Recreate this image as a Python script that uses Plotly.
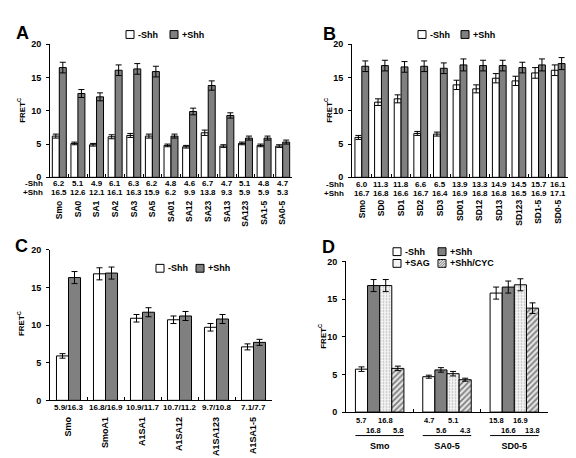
import plotly.graph_objects as go

# ---------------- data ----------------
a_cats = ["Smo", "SA0", "SA1", "SA2", "SA3", "SA5", "SA01", "SA12", "SA23", "SA13", "SA123", "SA1-5", "SA0-5"]
a_minus = [6.2, 5.1, 4.9, 6.1, 6.3, 6.2, 4.8, 4.6, 6.7, 4.7, 5.1, 4.8, 4.7]
a_plus = [16.5, 12.6, 12.1, 16.1, 16.3, 15.9, 6.2, 9.9, 13.8, 9.3, 5.9, 5.9, 5.3]
a_minus_err = [0.3, 0.2, 0.2, 0.3, 0.3, 0.3, 0.2, 0.2, 0.4, 0.2, 0.2, 0.2, 0.2]
a_plus_err = [0.8, 0.6, 0.6, 0.8, 0.8, 0.8, 0.3, 0.5, 0.7, 0.4, 0.3, 0.3, 0.3]

b_cats = ["Smo", "SD0", "SD1", "SD2", "SD3", "SD01", "SD12", "SD13", "SD123", "SD1-5", "SD0-5"]
b_minus = [6.0, 11.3, 11.8, 6.6, 6.5, 13.9, 13.3, 14.9, 14.5, 15.7, 16.1]
b_plus = [16.7, 16.8, 16.6, 16.7, 16.4, 16.9, 16.8, 16.8, 16.5, 16.9, 17.1]
b_minus_err = [0.3, 0.5, 0.6, 0.3, 0.3, 0.7, 0.6, 0.7, 0.7, 0.8, 0.8]
b_plus_err = [0.8, 0.8, 0.8, 0.8, 0.8, 0.9, 0.8, 0.8, 0.8, 0.9, 0.9]

c_cats = ["Smo", "SmoA1", "A1SA1", "A1SA12", "A1SA123", "A1SA1-5"]
c_minus = [5.9, 16.8, 10.9, 10.7, 9.7, 7.1]
c_plus = [16.3, 16.9, 11.7, 11.2, 10.8, 7.7]
c_minus_err = [0.3, 0.8, 0.5, 0.5, 0.5, 0.4]
c_plus_err = [0.8, 0.8, 0.6, 0.6, 0.6, 0.4]

d_cats = ["Smo", "SA0-5", "SD0-5"]
d_minus = [5.7, 4.7, 15.8]
d_plus = [16.8, 5.6, 16.6]
d_sag = [16.8, 5.1, 16.9]
d_cyc = [5.8, 4.3, 13.8]
d_minus_err = [0.3, 0.2, 0.8]
d_plus_err = [0.8, 0.3, 0.8]
d_sag_err = [0.8, 0.3, 0.8]
d_cyc_err = [0.3, 0.2, 0.7]

series_names = ["-Shh", "+Shh", "+SAG", "+Shh/CYC"]

# ---------------- styling ----------------
W, H = 576, 458
FONT = "Liberation Sans, Arial, sans-serif"
GRAY = "#808080"


def PX(p):
    return p / W


def PY(p):
    return 1 - p / H


STYLE = {
    "-Shh": dict(color="white"),
    "+Shh": dict(color=GRAY),
    "+SAG": dict(color="#f4f4f4", pattern=dict(shape=".", fgcolor="#b5b5b5", bgcolor="#f4f4f4",
                                               size=3, solidity=0.25, fillmode="replace")),
    "+Shh/CYC": dict(color="#e4e4e4", pattern=dict(shape="/", fgcolor="#7a7a7a", bgcolor="#e4e4e4",
                                                   size=4, solidity=0.4, fillmode="replace")),
}

fig = go.Figure()
annotations = []
shapes = []


def add_group(cats, series, errs, names, xa, ya, bargap):
    n = len(series)
    gw = 1 - bargap
    w = gw / n
    for k, (vals, err, nm) in enumerate(zip(series, errs, names)):
        st = STYLE[nm]
        marker = dict(color=st["color"], line=dict(color="black", width=1))
        if "pattern" in st:
            marker["pattern"] = st["pattern"]
        fig.add_trace(go.Bar(
            x=cats, y=vals, name=nm, showlegend=False,
            width=w, offset=-gw / 2 + k * w,
            marker=marker, xaxis=xa, yaxis=ya,
            error_y=dict(type="data", array=err, visible=True, color="black",
                         thickness=1, width=3),
        ))
    return w, gw


def axis_pair(xdom, ydom, ncat, anchor_x, anchor_y, standoff, tickangle, tfs):
    xa = dict(domain=xdom, anchor=anchor_y, type="category", range=[-0.5, ncat - 0.5],
              showline=True, linecolor="black", linewidth=1, ticks="inside",
              tickson="boundaries", ticklen=3, tickcolor="black", tickwidth=1,
              tickangle=tickangle, ticklabelstandoff=standoff,
              tickfont=dict(family=FONT, size=tfs, color="black", weight="bold"),
              showgrid=False, zeroline=False, fixedrange=True)
    ya = dict(domain=ydom, anchor=anchor_x, range=[0, 20], dtick=5, tick0=0,
              showline=True, linecolor="black", linewidth=1, ticks="outside",
              ticklen=3, tickcolor="black", tickwidth=1, ticklabelstandoff=3,
              tickfont=dict(family=FONT, size=9, color="black", weight="bold"),
              showgrid=False, zeroline=False, fixedrange=True)
    return xa, ya


def txt(x, y, s, size=8, xref="paper", yref="paper", xanchor="center", yanchor="middle", angle=0):
    annotations.append(dict(x=x, y=y, xref=xref, yref=yref, text=s, showarrow=False,
                            xanchor=xanchor, yanchor=yanchor, textangle=angle,
                            font=dict(family=FONT, size=size, color="black", weight="bold")))


def legend_key(x, y, nm, size=8):
    st = STYLE[nm]
    shapes.append(dict(type="rect", xref="paper", yref="paper",
                       x0=PX(x), x1=PX(x + size), y0=PY(y + size), y1=PY(y),
                       fillcolor=st["color"], line=dict(color="black", width=1)))
    if nm == "+Shh/CYC":
        # diagonal hatch lines inside the key box
        for d in (2.7, 5.4, 8.1, 10.8, 13.5):
            xa0 = max(0, d - size)
            ya0 = min(d, size)
            xa1 = min(d, size)
            ya1 = max(0, d - size)
            shapes.append(dict(type="line", xref="paper", yref="paper",
                               x0=PX(x + xa0), y0=PY(y + ya0),
                               x1=PX(x + xa1), y1=PY(y + ya1),
                               line=dict(color="#7a7a7a", width=1)))


# ---------------- Panel A ----------------
ax_a, ay_a = axis_pair([PX(42), PX(284)], [PY(168), PY(32)], len(a_cats), "x", "y", 19, -90, 8.5)
add_group(a_cats, [a_minus, a_plus], [a_minus_err, a_plus_err], ["-Shh", "+Shh"], "x", "y", 0.25)
for c, m, p in zip(a_cats, a_minus, a_plus):
    txt(c, PY(174), f"{m:.1f}", xref="x")
    txt(c, PY(184), f"{p:.1f}", xref="x")
txt(PX(37), PY(174), "-Shh", size=8, xanchor="right")
txt(PX(37), PY(184), "+Shh", size=8, xanchor="right")

# ---------------- Panel B ----------------
ax_b, ay_b = axis_pair([PX(344), PX(560)], [PY(168), PY(32)], len(b_cats), "x2", "y2", 18, -90, 8.5)
add_group(b_cats, [b_minus, b_plus], [b_minus_err, b_plus_err], ["-Shh", "+Shh"], "x2", "y2", 0.3)
for c, m, p in zip(b_cats, b_minus, b_plus):
    txt(c, PY(175), f"{m:.1f}", xref="x2")
    txt(c, PY(185), f"{p:.1f}", xref="x2")
txt(PX(338), PY(175), "-Shh", size=8, xanchor="right")
txt(PX(338), PY(185), "+Shh", size=8, xanchor="right")

# ---------------- Panel C ----------------
ax_c, ay_c = axis_pair([PX(42), PX(264)], [PY(396), PY(242)], len(c_cats), "x3", "y3", 12, -90, 9)
add_group(c_cats, [c_minus, c_plus], [c_minus_err, c_plus_err], ["-Shh", "+Shh"], "x3", "y3", 0.35)
for c, m, p in zip(c_cats, c_minus, c_plus):
    txt(c, PY(403), f"{m:.1f}/{p:.1f}", xref="x3")

# ---------------- Panel D ----------------
ax_d, ay_d = axis_pair([PX(338), PX(540)], [PY(408), PY(254)], len(d_cats), "x4", "y4", 25, 0, 9)
d_series = [d_minus, d_plus, d_sag, d_cyc]
w, gw = add_group(d_cats, d_series, [d_minus_err, d_plus_err, d_sag_err, d_cyc_err],
                  series_names, "x4", "y4", 0.28)
for i, c in enumerate(d_cats):
    for k, vals in enumerate(d_series):
        xc = i - gw / 2 + (k + 0.5) * w
        row_y = 417 if k % 2 == 0 else 427
        txt(xc, PY(row_y), f"{vals[i]:.1f}", size=7.5, xref="x4")
    shapes.append(dict(type="line", xref="x4", yref="paper",
                       x0=i - gw / 2, x1=i + gw / 2, y0=PY(432), y1=PY(432),
                       line=dict(color="black", width=1)))

# ---------------- y titles, panel letters ----------------
for (x, y) in [(13, 100), (320, 100), (13, 318), (314, 331)]:
    txt(PX(x), PY(y), "FRET<sup>C</sup>", size=8, angle=-90)
for (x, y, s) in [(6, 20, "A"), (313, 21, "B"), (5, 238, "C"), (312, 239, "D")]:
    txt(PX(x), PY(y), s, size=18, xanchor="left")


# ---------------- legends (manual) ----------------
def legend_row(y, items):
    for (bx, nm) in items:
        legend_key(bx, y - 4, nm)
        txt(PX(bx + 10), PY(y), nm, size=9, xanchor="left")


legend_row(22, [(118, "-Shh"), (162, "+Shh")])
legend_row(22, [(410, "-Shh"), (453, "+Shh")])
legend_row(261, [(148, "-Shh"), (188, "+Shh")])
legend_row(244, [(385, "-Shh"), (430, "+Shh")])
legend_row(256, [(385, "+SAG"), (430, "+Shh/CYC")])

fig.update_layout(
    width=W, height=H, margin=dict(l=0, r=0, t=0, b=0),
    paper_bgcolor="white", plot_bgcolor="white",
    barmode="overlay", showlegend=False,
    font=dict(family=FONT, size=8, color="black", weight="bold"),
    xaxis=ax_a, yaxis=ay_a, xaxis2=ax_b, yaxis2=ay_b,
    xaxis3=ax_c, yaxis3=ay_c, xaxis4=ax_d, yaxis4=ay_d,
    annotations=annotations, shapes=shapes,
)

fig.write_html("out.html")
